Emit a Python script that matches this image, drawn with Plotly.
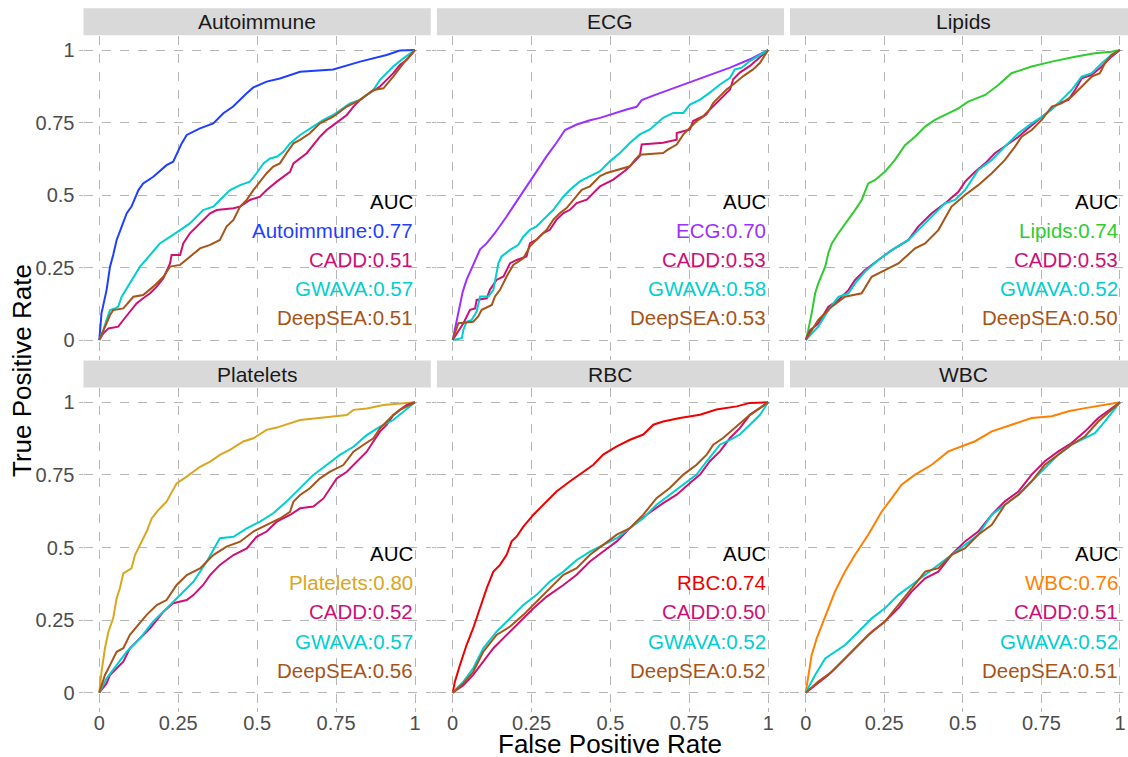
import plotly.graph_objects as go

# ---------------- data (FPR / TPR) ----------------
panel_names = ["Autoimmune", "ECG", "Lipids", "Platelets", "RBC", "WBC"]
method_names = ["CADD", "GWAVA", "DeepSEA"]

# AUC values: trait, CADD, GWAVA, DeepSEA
auc_autoimmune = [0.77, 0.51, 0.57, 0.51]
auc_ecg = [0.70, 0.53, 0.58, 0.53]
auc_lipids = [0.74, 0.53, 0.52, 0.50]
auc_platelets = [0.80, 0.52, 0.57, 0.56]
auc_rbc = [0.74, 0.50, 0.52, 0.52]
auc_wbc = [0.76, 0.51, 0.52, 0.51]

# ---- Autoimmune ----
auto_trait_x = [0, .007, .023, .034, .044, .055, .071, .087, .102, .124, .139, .171, .213, .234, .261, .277, .319, .361, .393, .424, .467, .488, .530, .572, .636, .741, .826, .910, .952, 1]
auto_trait_y = [0, .092, .172, .253, .293, .345, .391, .437, .460, .517, .540, .563, .603, .615, .678, .707, .730, .747, .782, .805, .851, .871, .891, .902, .925, .933, .960, .983, .998, 1]
auto_cadd_x = [0, .013, .029, .060, .076, .118, .139, .161, .182, .203, .224, .229, .256, .266, .287, .308, .351, .372, .425, .446, .477, .509, .530, .562, .583, .604, .615, .636, .657, .699, .720, .741, .784, .805, .826, .847, .889, .910, .931, .952, .974, 1]
auto_cadd_y = [0, .023, .040, .046, .069, .126, .144, .161, .184, .213, .264, .293, .293, .333, .368, .391, .437, .448, .454, .460, .483, .494, .517, .546, .563, .580, .609, .626, .644, .701, .724, .741, .776, .805, .828, .845, .874, .897, .920, .948, .966, 1]
auto_gwava_x = [0, .013, .023, .034, .050, .060, .071, .097, .129, .161, .192, .256, .287, .329, .361, .382, .414, .446, .477, .498, .520, .541, .562, .583, .604, .636, .667, .710, .741, .794, .826, .868, .889, .931, .963, 1]
auto_gwava_y = [0, .034, .069, .103, .109, .115, .149, .195, .253, .293, .333, .379, .402, .448, .460, .483, .517, .534, .546, .575, .609, .626, .632, .649, .678, .707, .730, .759, .776, .816, .828, .862, .897, .943, .971, 1]
auto_deepsea_x = [0, .013, .034, .044, .076, .108, .139, .171, .203, .224, .256, .287, .319, .351, .382, .403, .425, .446, .467, .488, .509, .530, .551, .572, .593, .615, .636, .667, .699, .741, .784, .826, .868, .900, .931, .963, 1]
auto_deepsea_y = [0, .034, .086, .103, .109, .149, .155, .184, .218, .253, .259, .287, .316, .328, .345, .391, .414, .460, .483, .517, .546, .575, .598, .609, .644, .678, .690, .713, .747, .770, .805, .828, .862, .868, .908, .954, 1]

# ---- ECG ----
ecg_trait_x = [0, .018, .032, .044, .060, .087, .108, .134, .171, .213, .256, .298, .329, .356, .393, .435, .467, .509, .551, .583, .599, .646, .720, .794, .879, .942, 1]
ecg_trait_y = [0, .092, .167, .207, .248, .313, .334, .369, .426, .495, .565, .634, .680, .724, .743, .758, .766, .781, .795, .804, .827, .847, .876, .904, .939, .968, 1]
ecg_cadd_x = [0, .018, .034, .055, .071, .076, .108, .118, .139, .161, .182, .203, .234, .245, .266, .287, .308, .329, .351, .372, .393, .425, .446, .467, .509, .551, .572, .593, .599, .667, .710, .710, .752, .762, .794, .815, .836, .857, .879, .889, .910, .942, 1]
ecg_cadd_y = [0, .029, .058, .104, .109, .138, .144, .173, .207, .219, .265, .276, .288, .334, .346, .369, .380, .415, .438, .449, .472, .484, .507, .530, .553, .588, .611, .634, .674, .680, .691, .714, .726, .755, .772, .795, .818, .841, .864, .899, .922, .945, 1]
ecg_gwava_x = [0, .029, .034, .044, .060, .076, .087, .113, .129, .145, .155, .182, .208, .224, .245, .266, .287, .319, .351, .372, .403, .435, .467, .498, .530, .562, .593, .625, .667, .699, .731, .752, .784, .815, .847, .879, .894, .916, .942, 1]
ecg_gwava_y = [0, .006, .035, .063, .069, .098, .150, .150, .173, .265, .288, .311, .328, .357, .380, .392, .415, .449, .495, .518, .547, .565, .582, .616, .645, .680, .709, .726, .766, .783, .783, .812, .829, .853, .881, .904, .933, .939, .962, 1]
ecg_deepsea_x = [0, .018, .065, .081, .092, .124, .134, .150, .171, .192, .224, .245, .266, .298, .319, .340, .361, .382, .409, .435, .467, .488, .530, .562, .578, .593, .667, .683, .710, .731, .752, .773, .805, .826, .847, .868, .889, .921, .952, .974, 1]
ecg_deepsea_y = [0, .058, .063, .081, .104, .121, .150, .173, .219, .259, .282, .323, .346, .380, .415, .438, .455, .484, .518, .530, .565, .576, .588, .599, .622, .639, .645, .657, .674, .709, .732, .755, .778, .818, .841, .864, .881, .910, .933, .956, 1]

# ---- Lipids ----
lip_trait_x = [0, .008, .019, .030, .040, .062, .072, .083, .104, .136, .157, .178, .199, .221, .252, .284, .316, .348, .380, .411, .454, .486, .517, .571, .613, .655, .719, .783, .857, .920, .973, 1]
lip_trait_y = [0, .034, .092, .161, .195, .253, .299, .333, .368, .414, .448, .483, .540, .552, .580, .621, .672, .701, .736, .759, .782, .799, .822, .845, .879, .920, .943, .960, .977, .989, .994, 1]
lip_cadd_x = [0, .014, .040, .072, .104, .136, .157, .189, .231, .274, .327, .358, .401, .443, .486, .507, .539, .571, .602, .645, .677, .708, .740, .772, .804, .836, .857, .878, .910, .942, .973, 1]
lip_cadd_y = [0, .034, .057, .115, .138, .172, .207, .241, .276, .310, .345, .391, .437, .471, .511, .546, .580, .609, .644, .678, .701, .730, .759, .787, .816, .828, .862, .902, .914, .943, .977, 1]
lip_gwava_x = [0, .019, .040, .072, .104, .136, .157, .189, .231, .274, .327, .358, .401, .443, .475, .507, .549, .592, .634, .677, .719, .761, .793, .814, .846, .878, .910, .942, .973, 1]
lip_gwava_y = [0, .023, .046, .103, .149, .161, .195, .236, .276, .310, .345, .379, .425, .471, .483, .517, .586, .621, .667, .713, .747, .776, .805, .828, .862, .908, .920, .954, .983, 1]
lip_deepsea_x = [0, .019, .040, .083, .125, .178, .210, .252, .295, .348, .380, .422, .464, .507, .549, .592, .634, .666, .687, .719, .751, .783, .814, .846, .878, .910, .936, .952, .973, 1]
lip_deepsea_y = [0, .034, .069, .115, .149, .161, .218, .241, .264, .316, .333, .379, .460, .500, .534, .575, .621, .667, .701, .724, .759, .805, .816, .839, .874, .908, .920, .954, .983, 1]

# ---- Platelets ----
plt_trait_x = [0, .007, .018, .029, .044, .055, .065, .076, .102, .113, .129, .150, .166, .182, .213, .229, .245, .277, .298, .319, .351, .382, .414, .456, .488, .530, .562, .604, .636, .688, .741, .784, .805, .847, .900, .952, 1]
plt_trait_y = [0, .072, .153, .210, .256, .325, .359, .411, .428, .474, .509, .555, .600, .623, .658, .692, .721, .744, .761, .778, .796, .819, .836, .865, .876, .905, .913, .928, .939, .945, .951, .956, .974, .979, .991, .997, 1]
plt_cadd_x = [0, .023, .034, .055, .076, .097, .129, .161, .182, .203, .234, .277, .298, .329, .351, .382, .425, .467, .498, .530, .562, .604, .636, .678, .710, .731, .752, .784, .815, .847, .868, .889, .910, .931, .952, .974, 1]
plt_cadd_y = [0, .032, .061, .084, .107, .153, .187, .222, .250, .279, .308, .319, .336, .371, .405, .440, .474, .497, .537, .555, .589, .612, .635, .641, .669, .704, .738, .761, .796, .830, .865, .899, .922, .956, .974, .991, 1]
plt_gwava_x = [0, .023, .055, .087, .129, .171, .213, .256, .298, .340, .382, .425, .467, .509, .551, .593, .636, .678, .720, .762, .805, .847, .889, .931, 1]
plt_gwava_y = [0, .049, .095, .141, .187, .245, .290, .336, .382, .451, .532, .537, .566, .589, .618, .658, .704, .750, .784, .819, .847, .887, .916, .939, 1]
plt_deepsea_x = [0, .018, .034, .055, .076, .097, .118, .150, .182, .213, .245, .277, .319, .361, .403, .446, .488, .530, .572, .604, .615, .636, .667, .699, .731, .773, .805, .836, .868, .889, .910, .931, .952, 1]
plt_deepsea_y = [0, .061, .095, .141, .153, .199, .227, .268, .302, .319, .371, .405, .428, .474, .503, .520, .555, .577, .600, .623, .658, .681, .704, .738, .761, .784, .830, .853, .876, .910, .933, .956, .974, 1]

# ---- RBC ----
rbc_trait_x = [0, .007, .023, .044, .065, .087, .108, .129, .150, .171, .187, .203, .224, .256, .287, .329, .372, .414, .446, .477, .520, .562, .604, .636, .667, .720, .784, .836, .900, .942, 1]
rbc_trait_y = [0, .038, .095, .164, .222, .291, .360, .417, .440, .475, .521, .538, .572, .613, .647, .693, .728, .762, .785, .820, .848, .871, .889, .923, .934, .946, .957, .975, .986, .998, 1]
rbc_cadd_x = [0, .034, .065, .097, .129, .171, .213, .256, .298, .351, .393, .435, .477, .520, .562, .615, .667, .710, .752, .784, .815, .847, .879, .910, .942, 1]
rbc_cadd_y = [0, .026, .061, .107, .153, .199, .245, .291, .331, .371, .406, .452, .486, .521, .567, .613, .653, .682, .722, .751, .797, .831, .877, .911, .957, 1]
rbc_gwava_x = [0, .034, .065, .097, .139, .182, .224, .266, .308, .351, .393, .435, .477, .520, .562, .604, .646, .688, .731, .773, .805, .847, .879, .910, .942, .974, 1]
rbc_gwava_y = [0, .038, .084, .153, .210, .256, .302, .337, .383, .417, .457, .486, .509, .532, .567, .601, .647, .682, .716, .751, .797, .854, .871, .889, .923, .957, 1]
rbc_deepsea_x = [0, .034, .065, .097, .139, .182, .224, .266, .308, .351, .393, .435, .477, .520, .562, .604, .646, .688, .731, .773, .805, .826, .857, .900, .942, 1]
rbc_deepsea_y = [0, .032, .072, .141, .199, .228, .268, .314, .360, .406, .429, .475, .509, .544, .567, .613, .670, .705, .751, .785, .820, .854, .877, .917, .957, 1]

# ---- WBC ----
wbc_trait_x = [0, .008, .019, .035, .051, .067, .093, .125, .157, .199, .242, .274, .305, .348, .401, .454, .496, .539, .592, .655, .719, .783, .836, .889, .952, 1]
wbc_trait_y = [0, .061, .130, .187, .233, .279, .348, .417, .475, .544, .624, .670, .716, .751, .785, .831, .848, .866, .900, .923, .946, .952, .969, .980, .992, 1]
wbc_cadd_x = [0, .030, .072, .115, .157, .199, .252, .295, .337, .380, .422, .464, .507, .549, .592, .634, .677, .719, .761, .804, .846, .889, .931, 1]
wbc_cadd_y = [0, .026, .061, .107, .153, .199, .245, .291, .348, .394, .417, .475, .521, .555, .613, .659, .693, .751, .797, .831, .860, .900, .946, 1]
wbc_gwava_x = [0, .030, .062, .093, .125, .168, .210, .252, .295, .337, .380, .422, .464, .507, .549, .592, .634, .677, .719, .761, .804, .846, .889, .920, .952, 1]
wbc_gwava_y = [0, .061, .118, .141, .164, .210, .256, .291, .337, .371, .406, .440, .475, .509, .544, .613, .647, .682, .728, .774, .820, .854, .877, .894, .934, 1]
wbc_deepsea_x = [0, .040, .083, .125, .168, .210, .252, .295, .337, .380, .422, .464, .507, .549, .592, .634, .677, .719, .761, .804, .846, .889, .931, 1]
wbc_deepsea_y = [0, .038, .072, .118, .164, .210, .245, .302, .360, .417, .429, .475, .498, .544, .578, .647, .682, .728, .785, .820, .854, .883, .934, 1]

tick_vals = [0, 0.25, 0.5, 0.75, 1]
tick_text = ["0", "0.25", "0.5", "0.75", "1"]

# ---------------- styling ----------------
trait_colors = ["#1F3FFF", "#9B30FF", "#2FCB2F", "#DAA520", "#EE0000", "#FF7F00"]
method_colors = {"CADD": "#CD1076", "GWAVA": "#00CED1", "DeepSEA": "#A65418"}
FONT = "Arial, 'Liberation Sans', sans-serif"
W, H = 1128, 757

panels = [
    (auc_autoimmune, [(auto_trait_x, auto_trait_y), (auto_cadd_x, auto_cadd_y), (auto_gwava_x, auto_gwava_y), (auto_deepsea_x, auto_deepsea_y)]),
    (auc_ecg, [(ecg_trait_x, ecg_trait_y), (ecg_cadd_x, ecg_cadd_y), (ecg_gwava_x, ecg_gwava_y), (ecg_deepsea_x, ecg_deepsea_y)]),
    (auc_lipids, [(lip_trait_x, lip_trait_y), (lip_cadd_x, lip_cadd_y), (lip_gwava_x, lip_gwava_y), (lip_deepsea_x, lip_deepsea_y)]),
    (auc_platelets, [(plt_trait_x, plt_trait_y), (plt_cadd_x, plt_cadd_y), (plt_gwava_x, plt_gwava_y), (plt_deepsea_x, plt_deepsea_y)]),
    (auc_rbc, [(rbc_trait_x, rbc_trait_y), (rbc_cadd_x, rbc_cadd_y), (rbc_gwava_x, rbc_gwava_y), (rbc_deepsea_x, rbc_deepsea_y)]),
    (auc_wbc, [(wbc_trait_x, wbc_trait_y), (wbc_cadd_x, wbc_cadd_y), (wbc_gwava_x, wbc_gwava_y), (wbc_deepsea_x, wbc_deepsea_y)]),
]

# panel pixel boxes (left, right) and (top, bottom)
col_px = [(83.5, 430.8), (436.9, 784.0), (790.0, 1128.0)]
col_range = [[-0.05, 1.05], [-0.05, 1.05], [-0.05, 1.0255]]
row_px = [(35.5, 354.5), (387.8, 707.2)]
strip_px = [(8.3, 35.3), (360.5, 387.6)]

fig = go.Figure()
layout = dict(
    width=W, height=H,
    margin=dict(l=0, r=0, t=0, b=0),
    paper_bgcolor="white", plot_bgcolor="white",
    showlegend=False,
    font=dict(family=FONT, color="#1A1A1A"),
)
shapes, annotations = [], []

for i, (name, (aucs, curves)) in enumerate(zip(panel_names, panels)):
    r, c = divmod(i, 3)
    n = i + 1
    xa = "x" if n == 1 else f"x{n}"
    ya = "y" if n == 1 else f"y{n}"
    colors = [trait_colors[i]] + [method_colors[m] for m in method_names]
    labels = [name] + method_names
    for (cx, cy), col, lab in zip(curves, colors, labels):
        fig.add_trace(go.Scatter(x=cx, y=cy, mode="lines", name=lab,
                                 line=dict(color=col, width=2),
                                 xaxis=xa, yaxis=ya, hoverinfo="skip"))
    x0, x1 = col_px[c]
    yt, yb = row_px[r]
    common = dict(showgrid=True, gridcolor="#B5B5B5", griddash="dash", gridwidth=1,
                  zeroline=False, showline=False, tickvals=tick_vals, ticktext=tick_text,
                  ticks="outside", ticklen=4, tickcolor="#B5B5B5", tickwidth=1,
                  tickfont=dict(family=FONT, size=20, color="#4D4D4D"), fixedrange=True,
                  automargin=False)
    layout["xaxis" if n == 1 else f"xaxis{n}"] = dict(
        common, domain=[x0 / W, x1 / W], range=col_range[c], anchor=ya,
        showticklabels=(r == 1), ticklabelstandoff=-6)
    layout["yaxis" if n == 1 else f"yaxis{n}"] = dict(
        common, domain=[1 - yb / H, 1 - yt / H], range=[-0.05, 1.05], anchor=xa,
        showticklabels=(c == 0))
    # strip
    st, sb = strip_px[r]
    shapes.append(dict(type="rect", xref="paper", yref="paper",
                       x0=x0 / W, x1=x1 / W, y0=1 - sb / H, y1=1 - st / H,
                       fillcolor="#D9D9D9", line=dict(width=0), layer="below"))
    strip_right = x1 if c < 2 else 1137.0
    annotations.append(dict(text=name, xref="paper", yref="paper",
                            x=(x0 + strip_right) / 2 / W,
                            y=1 - (st + sb) / 2 / H, showarrow=False,
                            xanchor="center", yanchor="middle",
                            font=dict(family=FONT, size=21, color="#1A1A1A")))
    # AUC text block
    auc_lines = [("AUC", "black")] + [(f"{lab}:{v:.2f}", col) for lab, v, col in zip(labels, aucs, colors)]
    for k, (txt, col) in enumerate(auc_lines):
        annotations.append(dict(text=txt, x=1, y=0.478 - 0.1 * k, xref=xa, yref=ya,
                                showarrow=False, xanchor="right", yanchor="middle",
                                font=dict(family=FONT, size=20.5, color=col)))

annotations.append(dict(text="False Positive Rate", xref="paper", yref="paper",
                        x=610 / W, y=1 - 744 / H, showarrow=False,
                        xanchor="center", yanchor="middle",
                        font=dict(family=FONT, size=26, color="black")))
annotations.append(dict(text="True Positive Rate", xref="paper", yref="paper",
                        x=22 / W, y=1 - 371 / H, showarrow=False, textangle=-90,
                        xanchor="center", yanchor="middle",
                        font=dict(family=FONT, size=26, color="black")))

layout["shapes"] = shapes
layout["annotations"] = annotations
fig.update_layout(**layout)
fig.write_html("out.html", config={"displayModeBar": False},
               post_script="document.body.style.margin='0';document.body.style.overflow='hidden';")
